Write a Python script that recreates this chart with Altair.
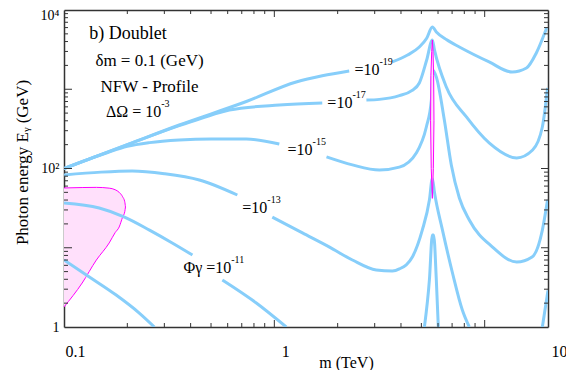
import altair as alt
import pandas as pd

FONT = "Liberation Serif"
BLUE = "#87cefa"
MAGENTA = "#ff00ff"
PINK = "#ffe0fb"
INK = "#333"

# ---------------- contour pieces: m (TeV) and E_gamma (GeV) ----------------
low_m = [0.1, 0.132, 0.177, 0.228, 0.269]
low_E = [7.0, 4.28, 2.53, 1.50, 1.0]

p11a_m = [0.1, 0.147, 0.194, 0.255, 0.327, 0.408]
p11a_E = [36.7, 31.7, 24.4, 16.7, 11.5, 8.1]
p11b_m = [0.566, 0.821, 1.14]
p11b_E = [3.92, 2.01, 1.0]
p11c_m = [5.17, 5.46, 5.64, 5.72, 5.89, 6.02]
p11c_E = [1.0, 3.92, 14.5, 14.5, 3.92, 1.0]

p13a_m = [0.1, 0.15, 0.211, 0.3, 0.44, 0.667]
p13a_E = [82.8, 90, 93, 86, 71.6, 46.3]
p13b_m = [0.978, 1.36, 1.83, 2.35, 3.05, 3.64, 3.93, 4.53, 5.05, 5.46, 5.64,
          5.77, 6.30, 7.03, 7.83, 8.45]
p13b_E = [24.4, 15.4, 10.2, 7.0, 5.24, 5.09, 5.4, 7.64, 16.7, 40, 75,
          50, 16.7, 4.80, 1.64, 1.0]
p13c_m = [18.8, 20]
p13c_E = [1.0, 2.9]

p15a_m = [0.1, 0.159, 0.2, 0.255, 0.353, 0.5, 0.736, 1.056]
p15a_E = [100, 157, 190, 212, 229, 236, 236, 204]
p15b_m = [1.77, 2.35, 3.16, 3.93, 4.73, 5.28, 5.58, 5.66, 5.89, 6.43, 6.94,
          7.58, 8.45, 10.9, 14.2, 16.8, 18.8, 19.9]
p15b_E = [140, 111, 95.7, 104, 157, 334, 731, 1750, 1428, 410, 111,
          42.4, 22.4, 10.2, 6.61, 7.64, 16.7, 40]

p17a_m = [0.1, 0.2, 0.35, 0.45, 0.611, 1.056, 1.69]
p17a_E = [100, 200, 345, 430, 547, 632, 670]
p17b_m = [2.74, 3.16, 3.93, 4.5, 4.89, 5.3, 5.64, 5.77, 6.58, 8.19, 10.5,
          14.2, 16.9, 18.8, 19.9]
p17b_E = [731, 745, 830, 960, 1200, 2340, 4180, 3140, 1060, 447, 210,
          136, 171, 334, 1037]

p19a_m = [0.1, 0.2, 0.353, 0.736, 1.27, 1.69, 2.27]
p19a_E = [100, 200, 354, 700, 1235, 1480, 1700]
p19b_m = [3.64, 4.3, 4.89, 5.3, 5.64, 5.89, 6.6, 7.58, 10.5, 13.5, 15.8,
          17.6, 19.7]
p19b_E = [2210, 2700, 3410, 4400, 6100, 5280, 4200, 3410, 2210, 1650, 1854,
          2870, 5930]

pieces = [
    ("low", low_m, low_E),
    ("p11a", p11a_m, p11a_E), ("p11b", p11b_m, p11b_E), ("p11c", p11c_m, p11c_E),
    ("p13a", p13a_m, p13a_E), ("p13b", p13b_m, p13b_E), ("p13c", p13c_m, p13c_E),
    ("p15a", p15a_m, p15a_E), ("p15b", p15b_m, p15b_E),
    ("p17a", p17a_m, p17a_E), ("p17b", p17b_m, p17b_E),
    ("p19a", p19a_m, p19a_E), ("p19b", p19b_m, p19b_E),
]

# ---------------- magenta regions ----------------
pink_m = [0.1, 0.122, 0.1425, 0.164, 0.175, 0.183, 0.19, 0.1945, 0.196]
pink_top = [56.8, 57.5, 57.8, 56.5, 54, 50, 44, 38, 32.7]
pink_bot = [1.79, 3.59, 7.0, 11.5, 15.5, 18.3, 24.4, 28.5, 32.7]

spike_E = [42, 100, 400, 1500, 3000, 4180]
spike_lo = [5.64, 5.57, 5.53, 5.55, 5.60, 5.64]
spike_hi = [5.64, 5.70, 5.74, 5.72, 5.68, 5.64]

# ---------------- text ----------------
info_text = ["δm = 0.1 (GeV)", "NFW - Profile"]
info_m = [0.255, 0.255]
info_E = [2270, 1067]
title_text = ["b) Doublet"]
title_m = [0.132]
title_E = [4980]

lab_base = ["ΔΩ = 10", "=10", "=10", "=10", "=10", "Φγ =10"]
lab_sup = ["-3", "-19", "-17", "-15", "-13", "-11"]
lab_m = [0.290, 3.16, 2.35, 1.52, 0.926, 0.624]
lab_E = [516, 1750, 670, 171, 31.7, 5.55]

# ---------------- axis ticks ----------------
x_label_vals = [0.1, 1, 20]
x_major = [1, 10]
x_minor = [0.2, 0.3, 0.4, 0.5, 0.6, 0.7, 0.8, 0.9, 2, 3, 4, 5, 6, 7, 8, 9]
y_label_vals = [1, 100, 10000]
y_major = [10, 100, 1000]
y_minor = [2, 3, 4, 5, 6, 7, 8, 9, 20, 30, 40, 50, 60, 70, 80, 90,
           200, 300, 400, 500, 600, 700, 800, 900,
           2000, 3000, 4000, 5000, 6000, 7000, 8000, 9000]

W, H = 484, 317

xs = alt.Scale(type="log", domain=[0.1, 20], nice=False)
ys = alt.Scale(type="log", domain=[1, 10000], nice=False)

rows = []
for name, ms, es in pieces:
    for i, (m, e) in enumerate(zip(ms, es)):
        rows.append({"piece": name, "i": i, "m": m, "E": e})
curves = pd.DataFrame(rows)

X = lambda f="m": alt.X(f"{f}:Q", scale=xs, axis=None)
Y = lambda f="E": alt.Y(f"{f}:Q", scale=ys, axis=None)

pink_df = pd.DataFrame({"m": pink_m, "top": pink_top, "bot": pink_bot})
pink_fill = alt.Chart(pink_df).mark_area(color=PINK, interpolate="monotone").encode(
    x=X(), y=Y("top"), y2="bot:Q")
pink_rows = ([{"side": "t", "m": m, "E": e} for m, e in zip(pink_m, pink_top)] +
             [{"side": "b", "m": m, "E": e} for m, e in zip(pink_m, pink_bot)])
pink_line = alt.Chart(pd.DataFrame(pink_rows)).mark_line(
    color=MAGENTA, strokeWidth=1, interpolate="monotone").encode(
    x=X(), y=Y(), detail="side:N")

lines = alt.Chart(curves).mark_line(
    color=BLUE, strokeWidth=3, interpolate="monotone", clip=True).encode(
    x=X(), y=Y(), detail="piece:N", order="i:Q")

spike_df = pd.DataFrame({"E": spike_E, "lo": spike_lo, "hi": spike_hi})
spike_fill = alt.Chart(spike_df).mark_area(color=PINK, orient="horizontal").encode(
    y=Y(), x=X("lo"), x2="hi:Q")
spike_rows = ([{"side": "l", "m": m, "E": e} for m, e in zip(spike_lo, spike_E)] +
              [{"side": "r", "m": m, "E": e} for m, e in zip(spike_hi, spike_E)])
spike_line = alt.Chart(pd.DataFrame(spike_rows)).mark_line(
    color=MAGENTA, strokeWidth=1).encode(
    x=X(), y=Y(), detail="side:N", order="E:Q")

title_t = alt.Chart(pd.DataFrame({"t": title_text, "m": title_m, "E": title_E})).mark_text(
    font=FONT, fontSize=18, align="left", baseline="middle", color="black").encode(
    x=X(), y=Y(), text="t:N")
info_t = alt.Chart(pd.DataFrame({"t": info_text, "m": info_m, "E": info_E})).mark_text(
    font=FONT, fontSize=17, align="center", baseline="middle", color="black").encode(
    x=X(), y=Y(), text="t:N")
lab_df = pd.DataFrame({"b": lab_base, "s": lab_sup, "m": lab_m, "E": lab_E})
lab_t = alt.Chart(lab_df).mark_text(
    font=FONT, fontSize=16, align="right", baseline="middle", color="black").encode(
    x=X(), y=Y(), text="b:N")
sup_t = alt.Chart(lab_df).mark_text(
    font=FONT, fontSize=10, align="left", baseline="middle", dy=-8, color="black").encode(
    x=X(), y=Y(), text="s:N")

# ---------------- inward tick marks (positions through the scales) ----------------
def xticks(vals, y0, y1):
    return alt.Chart(pd.DataFrame({"m": vals})).mark_rule(color=INK, strokeWidth=1).encode(
        x=X(), y=alt.value(y0), y2=alt.value(y1))


def yticks(vals, x0, x1):
    return alt.Chart(pd.DataFrame({"E": vals})).mark_rule(color=INK, strokeWidth=1).encode(
        y=Y(), x=alt.value(x0), x2=alt.value(x1))


ticks = [
    xticks(x_major, H, H - 7), xticks(x_minor, H, H - 4),
    xticks(x_major, 0, 7), xticks(x_minor, 0, 4),
    yticks(y_major, 0, 8), yticks(y_minor, 0, 4),
    yticks(y_major, W, W - 7), yticks(y_minor, W, W - 4),
]

DOM = dict(domainColor=INK, domainWidth=1.5)

x_lab_axis = alt.Axis(
    orient="bottom", values=x_label_vals, ticks=False, domain=True, grid=False,
    labelExpr="datum.value >= 19 ? '10' : datum.value >= 0.5 ? '1' : '0.1'",
    labelFont=FONT, labelFontSize=16, labelColor="black", labelPadding=16,
    labelOffset=11, labelFlush=False, labelOverlap=False, labelBound=False,
    title="m (TeV)", titleFont=FONT, titleFontSize=16, titleFontWeight="normal",
    titleColor="black", titleX=282, titleY=35, titleBaseline="middle",
    titleAlign="center", **DOM)
y_lab_axis = alt.Axis(
    orient="left", values=y_label_vals, ticks=False, domain=True, grid=False,
    labelExpr="datum.value == 1 ? '1' : datum.value == 100 ? '10²' : '10⁴'",
    labelFont=FONT, labelFontSize=14, labelColor="black", labelPadding=5,
    labelOffset=alt.condition("datum.value == 10000", alt.value(5), alt.value(0)),
    labelFlush=False, labelOverlap=False, labelBound=False,
    title="Photon energy  Eᵧ (GeV)", titleFont=FONT, titleFontSize=17,
    titleFontWeight="normal", titleColor="black", titleX=-42, titleY=152,
    titleAngle=-90, titleBaseline="middle", titleAlign="center", **DOM)
x_top_dom = alt.Axis(orient="top", values=[1], ticks=False, labels=False,
                     domain=True, grid=False, title=None, **DOM)
y_right_dom = alt.Axis(orient="right", values=[10], ticks=False, labels=False,
                       domain=True, grid=False, title=None, **DOM)

anchor = pd.DataFrame({"m": [1.0], "E": [10.0]})


def x_layer(ax):
    return alt.Chart(anchor).mark_point(opacity=0).encode(
        x=alt.X("m:Q", scale=xs, axis=ax), y=alt.Y("E:Q", scale=ys, axis=None))


def y_layer(ax):
    return alt.Chart(anchor).mark_point(opacity=0).encode(
        x=alt.X("m:Q", scale=xs, axis=None), y=alt.Y("E:Q", scale=ys, axis=ax))


axes = [x_layer(x_lab_axis), y_layer(y_lab_axis),
        x_layer(x_top_dom), y_layer(y_right_dom)]

chart = alt.layer(
    *axes, pink_fill, pink_line, lines, spike_fill, spike_line,
    title_t, info_t, lab_t, sup_t, *ticks
).resolve_axis(x="independent", y="independent").properties(
    width=W, height=H, autosize="none",
    padding={"left": 56, "top": 2, "right": 18, "bottom": 43},
    background="white",
).configure_view(stroke=None)

chart.save("out.html", embed_options={"renderer": "svg", "actions": False})
